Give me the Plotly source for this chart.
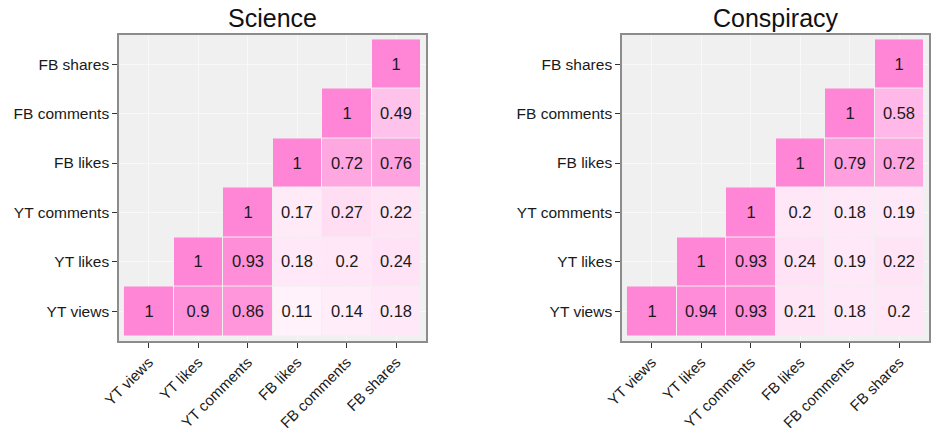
import plotly.graph_objects as go

labels = ["YT views", "YT likes", "YT comments", "FB likes", "FB comments", "FB shares"]

# upper-triangle rows (row label -> values for columns from the diagonal onwards)
science_rows = [
    [1, 0.9, 0.86, 0.11, 0.14, 0.18],   # YT views
    [1, 0.93, 0.18, 0.2, 0.24],         # YT likes
    [1, 0.17, 0.27, 0.22],              # YT comments
    [1, 0.72, 0.76],                    # FB likes
    [1, 0.49],                          # FB comments
    [1],                                # FB shares
]
conspiracy_rows = [
    [1, 0.94, 0.93, 0.21, 0.18, 0.2],
    [1, 0.93, 0.24, 0.19, 0.22],
    [1, 0.2, 0.18, 0.19],
    [1, 0.79, 0.72],
    [1, 0.58],
    [1],
]
titles = ["Science", "Conspiracy"]


def build_matrix(rows):
    n = len(labels)
    z, txt = [], []
    for i in range(n):
        r = [None] * i + list(rows[i])
        z.append(r)
        txt.append(["" if v is None else f"{v:g}" for v in r])
    return z, txt


W, H = 931, 428
colorscale = [[0, "#FFFFFF"], [1, "#FF85D6"]]

fig = go.Figure()
panels = [(science_rows, 119, 426), (conspiracy_rows, 622, 929)]
y_top, y_bot = 34.5, 341
for k, (rows, x0, x1) in enumerate(panels):
    z, txt = build_matrix(rows)
    xa = "x" if k == 0 else "x2"
    ya = "y" if k == 0 else "y2"
    fig.add_trace(go.Heatmap(
        z=z, x=labels, y=labels, text=txt, texttemplate="%{text}",
        textfont=dict(size=16.5, color="#1a1a1a", family="Liberation Sans"),
        colorscale=colorscale, zmin=0, zmax=1, showscale=False,
        xgap=1, ygap=1, hoverinfo="skip", xaxis=xa, yaxis=ya,
    ))
    axis_common = dict(
        type="category", range=[-0.6, 5.6], showgrid=True, gridcolor="#F8F8F8",
        gridwidth=1, zeroline=False, showline=True, mirror=True,
        linecolor="#8C8C8C", linewidth=1.5, ticks="outside", ticklen=5,
        tickcolor="#333333", tickwidth=1.2, automargin=False,
        fixedrange=True,
    )
    xkey = "xaxis" if k == 0 else "xaxis2"
    ykey = "yaxis" if k == 0 else "yaxis2"
    fig.update_layout(**{
        xkey: dict(axis_common, domain=[x0 / W, x1 / W], tickangle=-45,
                   anchor=ya,
                   tickfont=dict(size=15, color="#1a1a1a", family="Liberation Sans")),
        ykey: dict(axis_common, domain=[1 - y_bot / H, 1 - y_top / H],
                   anchor=xa,
                   tickfont=dict(size=15.5, color="#1a1a1a", family="Liberation Sans")),
    })
    fig.add_annotation(
        text=titles[k], x=(x0 + x1) / 2 / W, y=1 - 18 / H, xref="paper", yref="paper",
        showarrow=False, font=dict(size=25, color="#111111", family="Liberation Sans"),
        xanchor="center", yanchor="middle",
    )

fig.update_layout(
    width=W, height=H, margin=dict(l=0, r=0, t=0, b=0),
    paper_bgcolor="white", plot_bgcolor="#F0F0F0", showlegend=False,
)
fig.write_html(
    "out.html",
    config={"displayModeBar": False},
    post_script="document.body.style.margin='0';document.body.style.overflow='hidden';",
)
